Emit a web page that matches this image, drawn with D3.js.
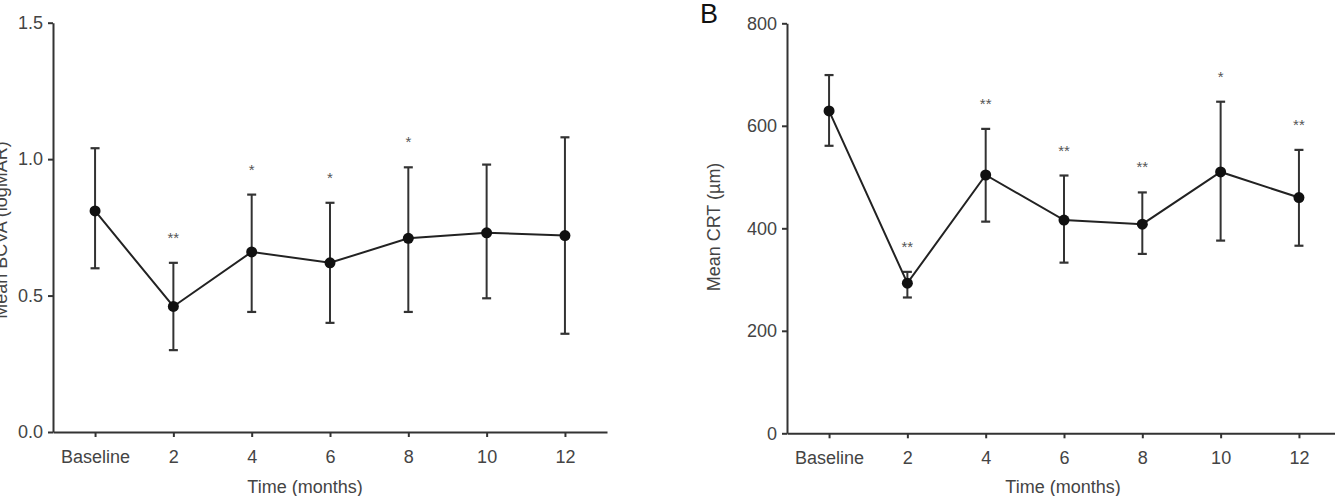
<!DOCTYPE html>
<html>
<head>
<meta charset="utf-8">
<script src="https://cdn.jsdelivr.net/npm/d3@7"></script>
<style>
  body { margin: 0; background: #fff; }
  svg { display: block; font-family: "Liberation Sans", Arial, sans-serif; }
  .axis path, .axis line { stroke: #333; stroke-width: 2; }
  .axis text { fill: #444; font-size: 18px; }
</style>
</head>
<body>
<svg width="1335" height="496"></svg>
<script>
// categories on the time axis
var categories = ['Baseline', '2', '4', '6', '8', '10', '12'];

// panel A: BCVA (logMAR)
var bcvaMean  = [0.81, 0.46, 0.66, 0.62, 0.71, 0.73, 0.72];
var bcvaUpper = [1.04, 0.62, 0.87, 0.84, 0.97, 0.98, 1.08];
var bcvaLower = [0.60, 0.30, 0.44, 0.40, 0.44, 0.49, 0.36];
var bcvaSig   = ['', '**', '*', '*', '*', '', ''];
var bcvaTicks = [0, 0.5, 1.0, 1.5];

// panel B: CRT (µm)
var crtMean  = [629, 293, 504, 416, 408, 510, 460];
var crtUpper = [699, 315, 594, 503, 470, 647, 553];
var crtLower = [561, 265, 413, 333, 350, 376, 366];
var crtSig   = ['', '**', '**', '**', '**', '*', '**'];
var crtTicks = [0, 200, 400, 600, 800];

var svg = d3.select('svg');

function drawPanel(opts) {
  var g = svg.append('g');

  var x = d3.scalePoint()
    .domain(categories)
    .range(opts.xRange)
    .padding(0.537);

  var y = d3.scaleLinear()
    .domain(opts.yDomain)
    .range(opts.yRange);

  var rows = categories.map(function(c, i) {
    return { cat: c, mean: opts.mean[i], hi: opts.upper[i], lo: opts.lower[i], sig: opts.sig[i] };
  });

  // axes
  g.append('g')
    .attr('class', 'axis')
    .attr('transform', 'translate(0,' + opts.yRange[0] + ')')
    .call(d3.axisBottom(x).tickSize(5).tickSizeOuter(0).tickPadding(13));

  g.append('g')
    .attr('class', 'axis')
    .attr('transform', 'translate(' + opts.xRange[0] + ',0)')
    .call(d3.axisLeft(y).tickValues(opts.ticks).tickFormat(opts.fmt)
      .tickSize(5).tickSizeOuter(0).tickPadding(5));

  // axis titles
  g.append('text')
    .attr('x', opts.xTitleX)
    .attr('y', 493)
    .attr('text-anchor', 'middle')
    .style('font-size', '18px')
    .style('fill', '#444')
    .text('Time (months)');

  g.append('text')
    .attr('transform', 'translate(' + opts.yTitleX + ',' + opts.yTitleY + ') rotate(-90)')
    .attr('text-anchor', 'middle')
    .style('font-size', '18px')
    .style('fill', '#444')
    .text(opts.yTitle);

  // error bars
  var bars = g.append('g').selectAll('g').data(rows).enter().append('g');
  bars.append('line')
    .attr('x1', function(d) { return x(d.cat); })
    .attr('x2', function(d) { return x(d.cat); })
    .attr('y1', function(d) { return y(d.lo); })
    .attr('y2', function(d) { return y(d.hi); })
    .attr('stroke', '#333').attr('stroke-width', 2);
  ['hi', 'lo'].forEach(function(k) {
    bars.append('line')
      .attr('x1', function(d) { return x(d.cat) - 4.5; })
      .attr('x2', function(d) { return x(d.cat) + 4.5; })
      .attr('y1', function(d) { return y(d[k]); })
      .attr('y2', function(d) { return y(d[k]); })
      .attr('stroke', '#333').attr('stroke-width', 2.2);
  });

  // mean line
  var line = d3.line()
    .x(function(d) { return x(d.cat); })
    .y(function(d) { return y(d.mean); });
  g.append('path')
    .datum(rows)
    .attr('d', line)
    .attr('fill', 'none')
    .attr('stroke', '#222')
    .attr('stroke-width', 2);

  g.append('g').selectAll('circle').data(rows).enter().append('circle')
    .attr('cx', function(d) { return x(d.cat); })
    .attr('cy', function(d) { return y(d.mean); })
    .attr('r', 5.5)
    .attr('fill', '#111');

  // significance marks
  g.append('g').selectAll('text').data(rows).enter().append('text')
    .attr('x', function(d) { return x(d.cat); })
    .attr('y', function(d) { return y(d.hi) - 20; })
    .attr('text-anchor', 'middle')
    .style('font-size', '15px')
    .style('fill', '#555')
    .text(function(d) { return d.sig; });
}

drawPanel({
  xRange: [53, 607], yRange: [432, 22.7], yDomain: [0, 1.5],
  mean: bcvaMean, upper: bcvaUpper, lower: bcvaLower, sig: bcvaSig,
  ticks: bcvaTicks, fmt: d3.format('.1f'),
  xTitleX: 305, yTitle: 'Mean BCVA (logMAR)', yTitleX: 7, yTitleY: 230
});

drawPanel({
  xRange: [787, 1341], yRange: [433.3, 23.3], yDomain: [0, 800],
  mean: crtMean, upper: crtUpper, lower: crtLower, sig: crtSig,
  ticks: crtTicks, fmt: d3.format('d'),
  xTitleX: 1063, yTitle: 'Mean CRT (µm)', yTitleX: 720, yTitleY: 227
});

// panel letter
svg.append('text')
  .attr('x', 700)
  .attr('y', 23)
  .style('font-size', '27px')
  .style('fill', '#111')
  .text('B');
</script>
</body>
</html>
